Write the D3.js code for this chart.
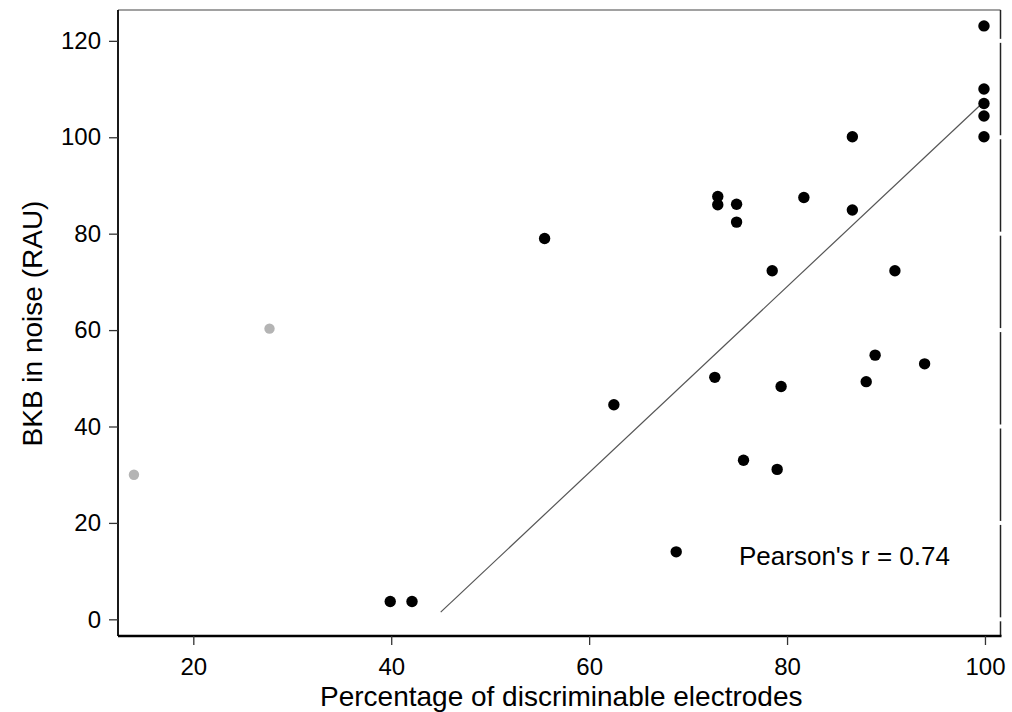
<!DOCTYPE html>
<html>
<head>
<meta charset="utf-8">
<script src="https://cdn.jsdelivr.net/npm/d3@7"></script>
<style>
  html, body { margin: 0; padding: 0; background: #fff; }
  svg { display: block; }
  text { font-family: "Liberation Sans", Arial, sans-serif; fill: #000; }
</style>
</head>
<body>
<svg id="chart" width="1012" height="712"></svg>
<script>
// ---- data ----
const blackX = [39.9, 42.1, 55.5, 62.5, 68.8, 72.7, 73.0, 73.0, 74.9, 74.9, 75.6, 78.5, 79.0, 79.4, 81.7, 86.6, 86.6, 88.0, 88.9, 90.9, 93.9, 99.9, 99.9, 99.9, 99.9, 99.9];
const blackY = [3.7, 3.7, 79.0, 44.5, 14.0, 50.2, 87.7, 86.0, 86.1, 82.4, 33.0, 72.3, 31.1, 48.3, 87.5, 100.1, 84.9, 49.3, 54.8, 72.3, 53.0, 123.1, 110.0, 107.0, 104.4, 100.1];
const grayX = [14.0, 27.7];
const grayY = [30.0, 60.3];
const fitX = [45.0, 99.7];
const fitY = [1.5, 107.0];
const xTicks = [20, 40, 60, 80, 100];
const yTicks = [0, 20, 40, 60, 80, 100, 120];
const xTitle = "Percentage of discriminable electrodes";
const yTitle = "BKB in noise (RAU)";
const annotation = "Pearson's r = 0.74";

// ---- layout ----
const L = 118, R = 1000.5, T = 10, B = 636;
const svg = d3.select("#chart");
const x = d3.scaleLinear().domain([12.39, 101.57]).range([L, R]);
const y = d3.scaleLinear().domain([-3.46, 126.4]).range([B, T]);

// top border
svg.append("line").attr("x1", L).attr("x2", R).attr("y1", T).attr("y2", T)
  .attr("stroke", "#444").attr("stroke-width", 1.2);

// right border with small gaps at tick rows
const rightSegs = [];
let prev = T;
yTicks.slice().sort((a, b) => b - a).forEach(v => {
  const py = y(v);
  rightSegs.push([prev, py - 2]);
  prev = py + 2;
});
rightSegs.push([prev, B]);
svg.selectAll(".rseg").data(rightSegs).enter().append("line")
  .attr("x1", R).attr("x2", R).attr("y1", d => d[0]).attr("y2", d => d[1])
  .attr("stroke", "#222").attr("stroke-width", 1.5);

// axes
const yAxis = d3.axisLeft(y).tickValues(yTicks).tickSize(9).tickPadding(8).tickFormat(d3.format("d"));
const gy = svg.append("g").attr("transform", `translate(${L},0)`).call(yAxis);
gy.select(".domain").attr("d", `M0,${T}V${B}`).attr("stroke", "#000").attr("stroke-width", 1.8);
gy.selectAll(".tick line").attr("stroke", "#333").attr("stroke-width", 1.3);
gy.selectAll(".tick text").attr("font-size", 24).attr("font-family", "Liberation Sans, Arial, sans-serif").attr("fill", "#000");

const xAxis = d3.axisBottom(x).tickValues(xTicks).tickSize(9).tickPadding(13).tickFormat(d3.format("d"));
const gx = svg.append("g").attr("transform", `translate(0,${B})`).call(xAxis);
gx.select(".domain").attr("d", `M${L},0H${R + 1}`).attr("stroke", "#000").attr("stroke-width", 2.4);
gx.selectAll(".tick line").attr("stroke", "#333").attr("stroke-width", 1.3);
gx.selectAll(".tick text").attr("font-size", 24).attr("font-family", "Liberation Sans, Arial, sans-serif").attr("fill", "#000");

// fitted line
const fit = fitX.map((v, i) => [v, fitY[i]]);
svg.append("path").datum(fit)
  .attr("d", d3.line().x(d => x(d[0])).y(d => y(d[1])))
  .attr("fill", "none").attr("stroke", "#555").attr("stroke-width", 1.2);

// gray points
const gray = grayX.map((v, i) => [v, grayY[i]]);
svg.selectAll(".gp").data(gray).enter().append("circle")
  .attr("cx", d => x(d[0])).attr("cy", d => y(d[1])).attr("r", 5.2)
  .attr("fill", "#b4b4b4");

// black points
const black = blackX.map((v, i) => [v, blackY[i]]);
svg.selectAll(".bp").data(black).enter().append("circle")
  .attr("cx", d => x(d[0])).attr("cy", d => y(d[1])).attr("r", 5.7)
  .attr("fill", "#000");

// annotation
svg.append("text").attr("x", 739).attr("y", 565).attr("font-size", 26).text(annotation);

// titles
svg.append("text").attr("x", (L + R) / 2 + 2).attr("y", 706).attr("text-anchor", "middle")
  .attr("font-size", 28).text(xTitle);
svg.append("text").attr("transform", `translate(42,${(T + B) / 2 + 0.5}) rotate(-90)`)
  .attr("text-anchor", "middle").attr("font-size", 28).text(yTitle);
</script>
</body>
</html>
